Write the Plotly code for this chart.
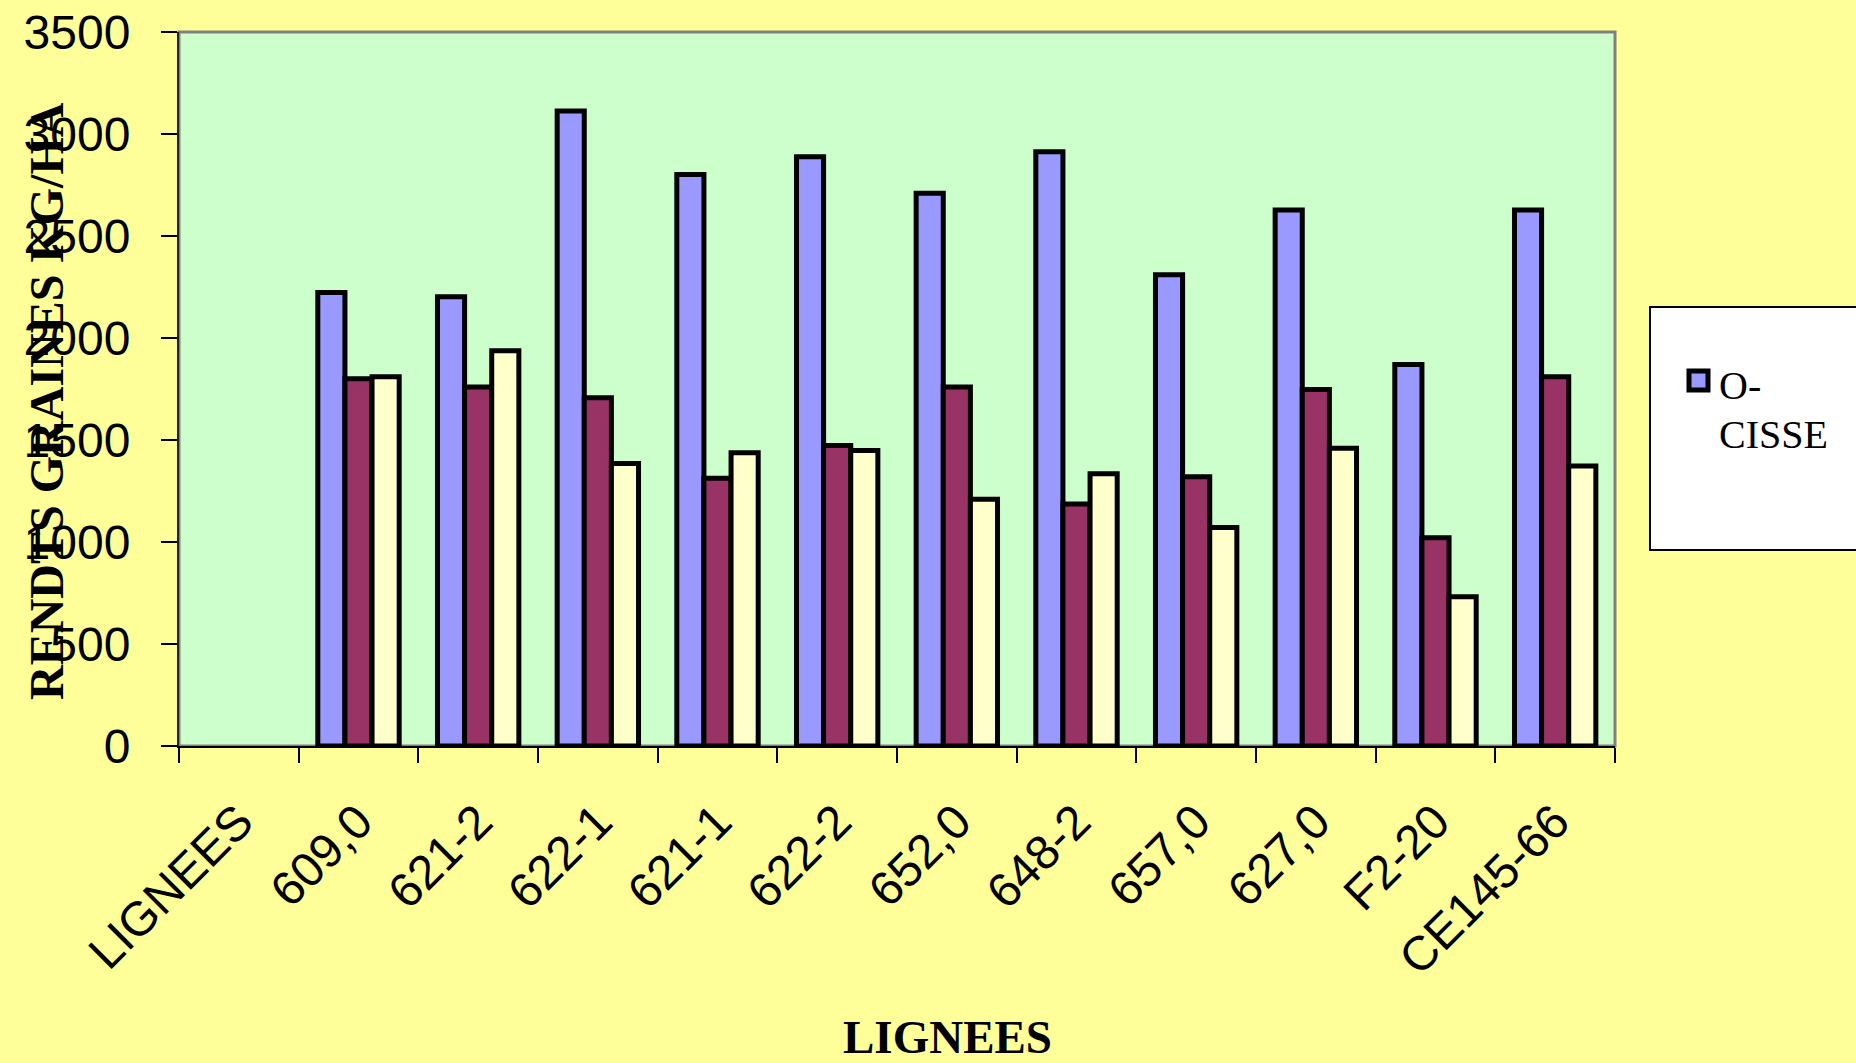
import plotly.graph_objects as go

# Grain yield per line (kg/ha), three series per line
lignees = ["LIGNEES", "609,0", "621-2", "622-1", "621-1", "622-2",
           "652,0", "648-2", "657,0", "627,0", "F2-20", "CE145-66"]
o_cisse = [None, 2223, 2202, 3113, 2802, 2888, 2710, 2913, 2310, 2628, 1870, 2628]
serie_2 = [None, 1800, 1760, 1707, 1313, 1473, 1760, 1186, 1320, 1748, 1021, 1810]
serie_3 = [None, 1810, 1937, 1385, 1438, 1449, 1210, 1335, 1071, 1459, 732, 1373]

y_ticks = [0, 500, 1000, 1500, 2000, 2500, 3000, 3500]

colors = ["#9999FF", "#993366", "#FFFFCC"]
names = ["O-CISSE", "Série 2", "Série 3"]

W, H = 1856, 1063
ML, MR, MT, MB = 179, 241, 32, 317
PW, PH = W - ML - MR, H - MT - MB


def px_x(x):
    return (x - ML) / PW


def px_y(y):
    return (H - MB - y) / PH


fig = go.Figure()
for vals, col, nm in zip([o_cisse, serie_2, serie_3], colors, names):
    fig.add_trace(go.Bar(
        x=lignees, y=vals, name=nm,
        marker=dict(color=col, line=dict(color="black", width=5)),
        showlegend=False,
    ))

tick_font = dict(family="Liberation Sans, Arial, sans-serif", size=48, color="black")
title_font = dict(family="Liberation Serif, Times New Roman, serif", size=47, color="black")

fig.update_layout(
    width=W, height=H,
    paper_bgcolor="#FFFF99",
    plot_bgcolor="#CCFFCC",
    margin=dict(l=ML, r=MR, t=MT, b=MB, pad=0, autoexpand=False),
    barmode="group",
    bargap=0.32,
    bargroupgap=0,
    xaxis=dict(
        type="category",
        categoryorder="array", categoryarray=lignees,
        tickangle=-45,
        tickfont=tick_font,
        ticks="outside", tickson="boundaries", ticklen=15, tickwidth=2, tickcolor="black",
        ticklabelstandoff=26,
        showline=True, linecolor="black", linewidth=2,
        showgrid=False, zeroline=False, automargin=False,
    ),
    yaxis=dict(
        range=[0, 3500],
        tickvals=y_ticks,
        tickfont=tick_font,
        ticks="outside", ticklen=16, tickwidth=2, tickcolor="black",
        ticklabelstandoff=21,
        showline=True, linecolor="#202020", linewidth=2,
        showgrid=False, zeroline=False, automargin=False,
    ),
)

# Plot-area frame (grey on top and right)
fig.add_shape(type="rect", xref="paper", yref="paper", x0=0, x1=1, y0=0, y1=1,
              line=dict(color="#808080", width=3), layer="below")

# Axis titles
fig.add_annotation(text="<b>RENDTS GRAINES KG/HA</b>", textangle=-90,
                   xref="paper", yref="paper", x=px_x(47), y=px_y(401),
                   xanchor="center", yanchor="middle", showarrow=False,
                   font=dict(family="Liberation Serif, Times New Roman, serif", size=48, color="black"))
fig.add_annotation(text="<b>LIGNEES</b>",
                   xref="paper", yref="paper", x=px_x(947), y=px_y(1037),
                   xanchor="center", yanchor="middle", showarrow=False,
                   font=title_font)

# Legend box
fig.add_shape(type="rect", xref="paper", yref="paper",
              x0=px_x(1650), x1=px_x(1900), y0=px_y(550), y1=px_y(307),
              fillcolor="white", line=dict(color="black", width=2))
fig.add_shape(type="rect", xref="paper", yref="paper",
              x0=px_x(1689), x1=px_x(1708), y0=px_y(390), y1=px_y(371),
              fillcolor=colors[0], line=dict(color="black", width=5))
legend_font = dict(family="Liberation Serif, Times New Roman, serif", size=40, color="black")
fig.add_annotation(text="O-", xref="paper", yref="paper", x=px_x(1717), y=px_y(385),
                   xanchor="left", yanchor="middle", showarrow=False, font=legend_font)
fig.add_annotation(text="CISSE", xref="paper", yref="paper", x=px_x(1717), y=px_y(434),
                   xanchor="left", yanchor="middle", showarrow=False, font=legend_font)

fig.write_html("out.html")
